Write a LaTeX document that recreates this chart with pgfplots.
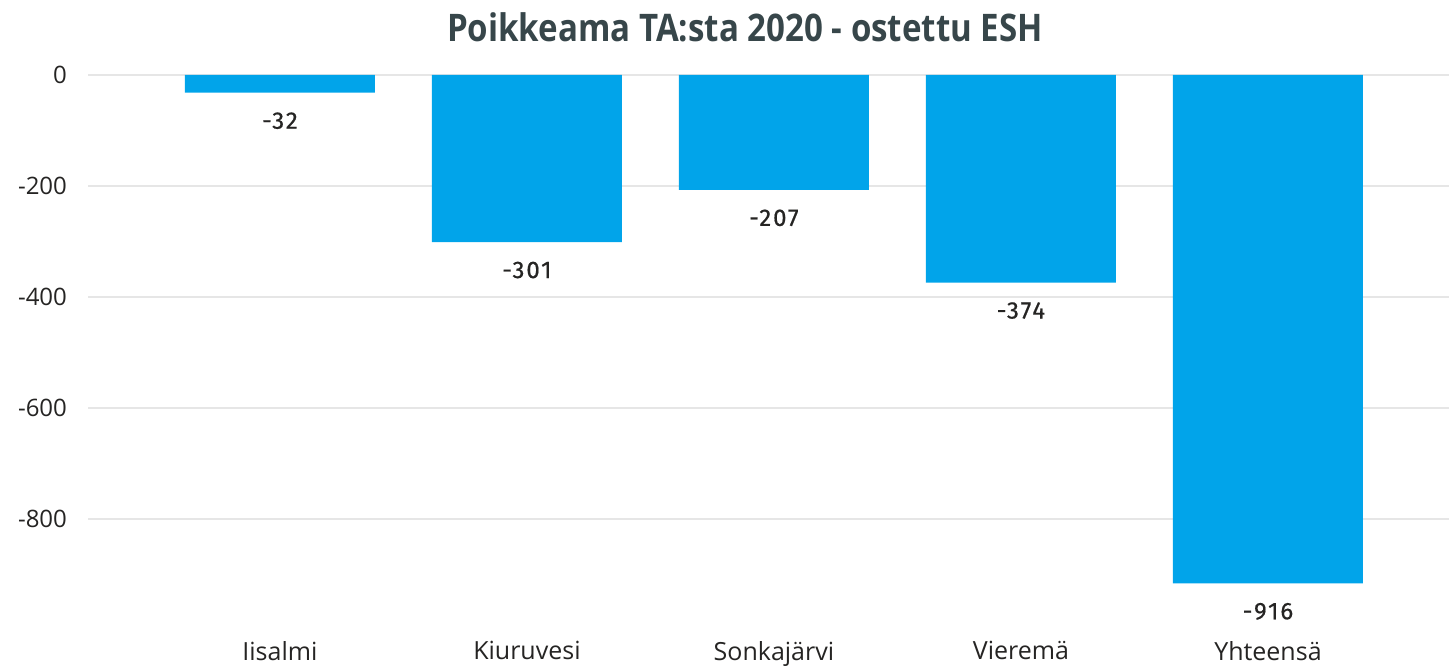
\documentclass[border=0pt]{standalone}
\usepackage{fontspec}
\setmainfont{Open Sans}
\newfontfamily\labfont{Fira Sans}[LetterSpace=8, FakeBold=0.6]
\usepackage{pgfplots}
\pgfplotsset{compat=1.18}
\definecolor{barblue}{HTML}{01A4EA}
\definecolor{titlegray}{HTML}{37464A}
\definecolor{tickgray}{HTML}{252423}
\definecolor{gridgray}{HTML}{E6E6E6}
\begin{document}
\begin{tikzpicture}
\begin{axis}[
  at={(0,0)}, anchor=south west,
  scale only axis,
  width=680.5pt, height=285pt,
  xmin=-0.777, xmax=4.733,
  ymin=-1000, ymax=27,
  axis line style={draw=none},
  ytick={-800,-600,-400,-200,0},
  yticklabel style={font=\fontsize{12}{14}\selectfont, text=tickgray, xshift=-7pt},
  /pgf/number format/assume math mode=true,
  yticklabel={\pgfmathprintnumber[assume math mode=true]{\tick}},
  xtick={0,1,2,3,4},
  xticklabels={Iisalmi,Kiuruvesi,Sonkajärvi,Vieremä,Yhteensä},
  xticklabel style={font=\fontsize{12.5}{14}\selectfont, text=tickgray, yshift=-2pt},
  major tick length=0pt,
  ymajorgrids, grid style={gridgray, line width=1pt},
  ybar, bar width=95pt, bar shift=0pt,
  nodes near coords,
  nodes near coords style={font=\labfont\fontsize{12}{13}\selectfont, text=tickgray, anchor=center, yshift=-14pt},
  point meta=explicit symbolic,
  clip=false,
]
\addplot[fill=barblue, draw=none] coordinates {(0,-32) [-32] (1,-301) [-301] (2,-207) [-207] (3,-374) [-374] (4,-916) [-916]};
\end{axis}
\node[font=\bfseries\fontsize{19}{22}\selectfont, text=titlegray] at (328.5pt,301.5pt) {\scalebox{0.87}[1]{Poikkeama TA:sta 2020 - ostettu ESH}};
\pgfresetboundingbox
\useasboundingbox (-44pt,-19pt) rectangle (680.5pt,315pt);
\end{tikzpicture}
\end{document}
